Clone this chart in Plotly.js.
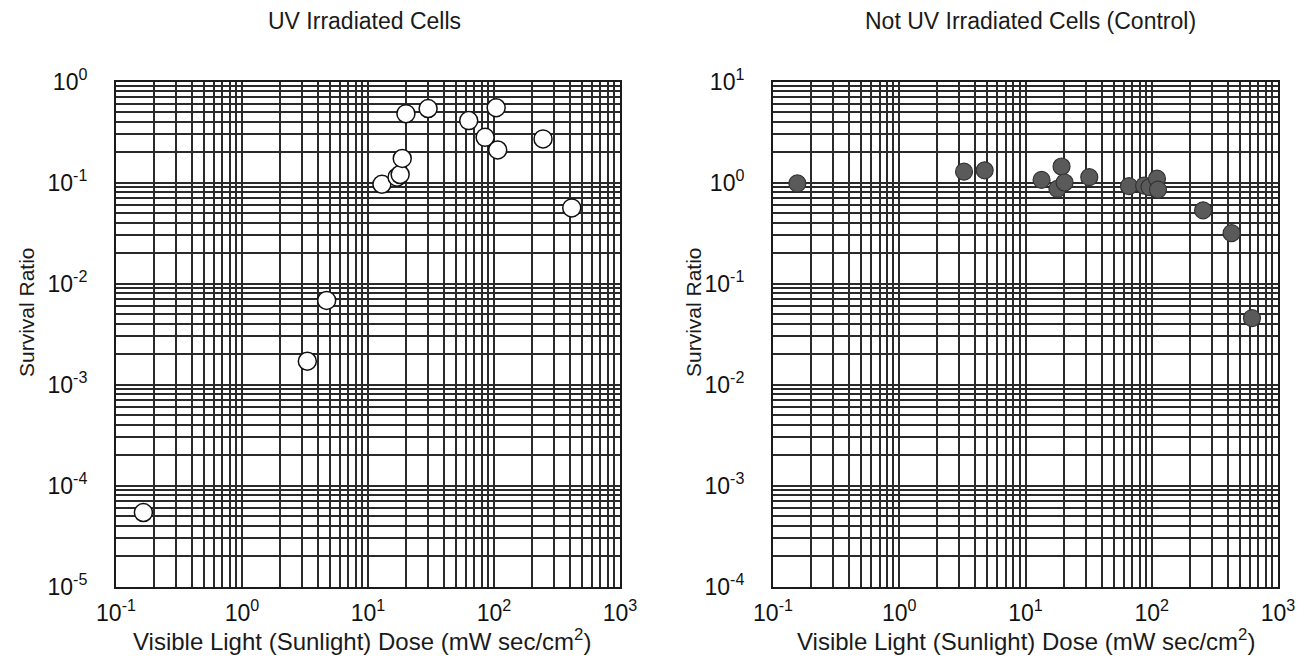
<!DOCTYPE html>
<html><head><meta charset="utf-8">
<script src="https://cdn.plot.ly/plotly-3.0.1.min.js"></script>
<style>html,body{margin:0;padding:0;background:#fff}#chart{width:1314px;height:659px}</style>
</head><body><div id="chart"></div>
<script>
// UV irradiated cells (open circles)
const uvDose     = [0.165, 3.3, 4.7, 12.9, 17.0, 18.0, 18.7, 20, 30, 63, 85, 104, 107, 245, 414];
const uvSurvival = [5.4e-5, 0.0017, 0.0068, 0.096, 0.113, 0.12, 0.173, 0.48, 0.54, 0.41, 0.28, 0.55, 0.21, 0.27, 0.056];
// Not UV irradiated cells (control, filled circles)
const ctrlDose     = [0.156, 3.26, 4.75, 13.4, 17.9, 19.3, 20.4, 32, 66, 87, 96, 110, 112, 255, 429, 622];
const ctrlSurvival = [0.98, 1.28, 1.32, 1.06, 0.865, 1.44, 1.0, 1.13, 0.92, 0.93, 0.9, 1.09, 0.85, 0.53, 0.315, 0.0454];

const xDecades = [-1, 0, 1, 2, 3];
const yDecadesUV = [-5, -4, -3, -2, -1, 0];
const yDecadesCtrl = [-4, -3, -2, -1, 0, 1];
const panelTitles = ['UV Irradiated Cells', 'Not UV Irradiated Cells (Control)'];
const xTitle = 'Visible Light (Sunlight) Dose (mW sec/cm<sup>2</sup>)';
const yTitle = 'Survival Ratio';

function logTicks(decades) {
  const vals = [], text = [], minor = [];
  decades.forEach((d, i) => {
    vals.push(Math.pow(10, d));
    text.push('10<sup>' + d + '</sup>');
    if (i < decades.length - 1) {
      for (let m = 2; m <= 9; m++) minor.push(m * Math.pow(10, d));
    }
  });
  return {tickvals: vals, ticktext: text, minor: minor};
}

const FONT = 'Liberation Sans, Arial, sans-serif';
const GRID = '#2a2a2a';
const axBase = {
  type: 'log', showgrid: true, gridcolor: GRID, gridwidth: 2,
  showline: true, linecolor: '#1a1a1a', linewidth: 2, mirror: true, zeroline: false,
  ticks: 'outside', tickcolor: 'rgba(0,0,0,0)', tickmode: 'array',
  tickfont: {family: FONT, size: 23, color: '#111'}, fixedrange: true
};
function minorCfg(vals) {
  return {tickmode: 'array', tickvals: vals, ticks: '', showgrid: true,
          gridcolor: GRID, gridwidth: 2};
}
function xAx(domain, anchor) {
  const t = logTicks(xDecades);
  return Object.assign({}, axBase, {domain: domain, anchor: anchor, range: [-1, 3], ticklen: 5,
    tickvals: t.tickvals, ticktext: t.ticktext, minor: minorCfg(t.minor)});
}
function yAx(domain, decades, anchor) {
  const t = logTicks(decades);
  return Object.assign({}, axBase, {domain: domain, anchor: anchor,
    range: [decades[0], decades[decades.length - 1]], ticklen: 22,
    tickvals: t.tickvals, ticktext: t.ticktext, minor: minorCfg(t.minor)});
}

const W = 1314, H = 659;
const yDom = [(H - 586.5) / H, (H - 81.5) / H];
const xDomL = [116 / W, 620 / W];
const xDomR = [773 / W, 1278 / W];

const traces = [
  {x: uvDose, y: uvSurvival, xaxis: 'x', yaxis: 'y', type: 'scatter', mode: 'markers',
   marker: {size: 18, color: '#ffffff', line: {color: '#111', width: 1.5}}, hoverinfo: 'x+y'},
  {x: ctrlDose, y: ctrlSurvival, xaxis: 'x2', yaxis: 'y2', type: 'scatter', mode: 'markers',
   marker: {size: 17, color: '#5a5a5a', line: {color: '#333', width: 1.2}}, hoverinfo: 'x+y'}
];

function ann(text, xpx, ypx, size, angle) {
  return {text: text, xref: 'paper', yref: 'paper', x: xpx / W, y: 1 - ypx / H,
    xanchor: 'center', yanchor: 'middle', showarrow: false, textangle: angle || 0,
    font: {family: FONT, size: size, color: '#1a1a1a'}};
}

const layout = {
  width: W, height: H, margin: {l: 0, r: 0, t: 0, b: 0},
  paper_bgcolor: '#fff', plot_bgcolor: '#fff', showlegend: false,
  xaxis: xAx(xDomL, 'y'), yaxis: yAx(yDom, yDecadesUV, 'x'),
  xaxis2: xAx(xDomR, 'y2'), yaxis2: yAx(yDom, yDecadesCtrl, 'x2'),
  annotations: [
    ann(panelTitles[0], 364, 21, 23),
    ann(panelTitles[1], 1030, 21, 23),
    ann(xTitle, 362, 640, 24),
    ann(xTitle, 1026, 640, 24),
    ann(yTitle, 27, 312, 21, -90),
    ann(yTitle, 694, 312, 21, -90)
  ]
};

Plotly.newPlot('chart', traces, layout, {displayModeBar: false, staticPlot: true});
</script></body></html>
